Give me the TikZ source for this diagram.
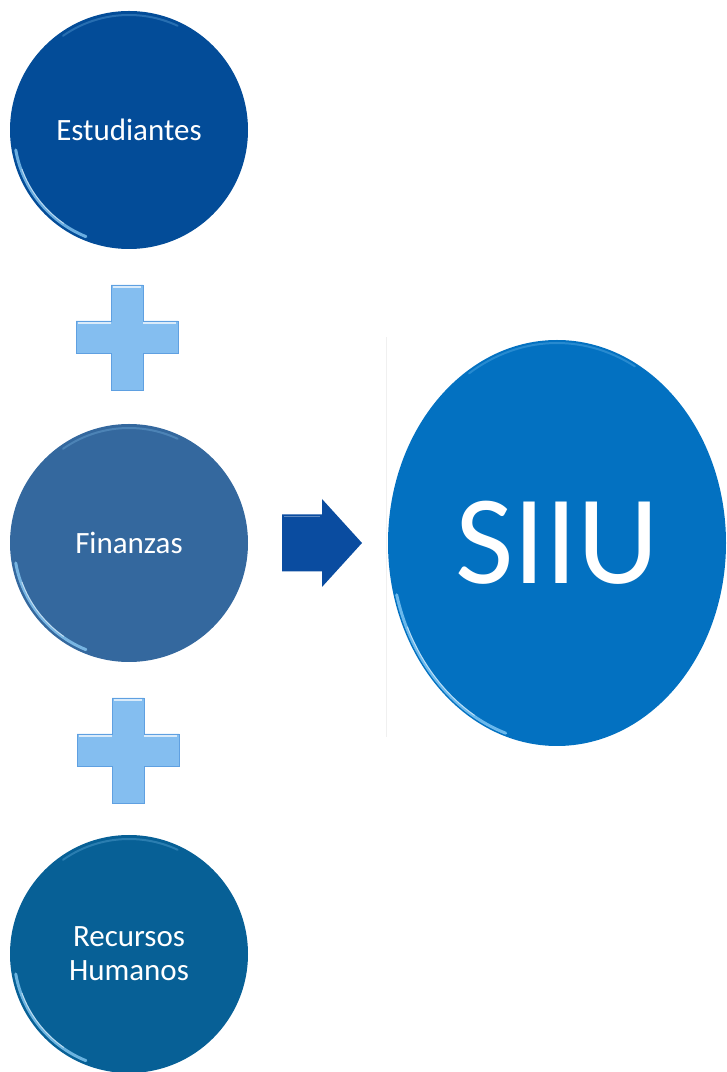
\documentclass[tikz,border=0pt]{standalone}
\usepackage{fontspec}
\setmainfont{Carlito}
\usetikzlibrary{calc,shapes.geometric}
\definecolor{cEst}{RGB}{3,76,152}
\definecolor{cFin}{RGB}{52,104,158}
\definecolor{cRec}{RGB}{7,96,150}
\definecolor{cSIIU}{RGB}{3,113,193}
\definecolor{cPlus}{RGB}{132,190,240}
\definecolor{cPlusEdge}{RGB}{95,160,225}
\definecolor{cArrow}{RGB}{10,76,160}
\definecolor{cHL}{RGB}{150,215,255}
\begin{document}
\begin{tikzpicture}[x=1pt,y=1pt,
  ball/.style={circle, minimum size=238pt, inner sep=0pt, text=white,
    align=center, font=\fontsize{31}{34}\selectfont},
  rim/.style={cHL, line width=3pt, line cap=round, opacity=0.7},
  rimin/.style={white, line width=1pt, line cap=round, opacity=0.55},
  rimtop/.style={cHL, line width=2pt, line cap=round, opacity=0.25},
  plusshape/.style={fill=cPlus, draw=cPlusEdge, line width=0.6pt},
  arrowshape/.style={fill=cArrow, draw=none}]
\useasboundingbox (0,0) rectangle (727,1072);

% faint separator line
\draw[gray!12, line width=0.8pt] (386,335) -- (386,735);

% circles
\node[ball, fill=cEst] (est) at (129,942) {Estudiantes};
\node[ball, fill=cFin] (fin) at (129,529) {Finanzas};
\node[ball, fill=cRec] (rec) at (129,118) {Recursos\\Humanos};
\node[ellipse, fill=cSIIU, minimum width=338pt, minimum height=406pt, inner sep=0pt,
  text=white, font=\fontsize{127}{127}\selectfont] (siiu) at (557,529) {SIIU};

% glossy rims
\foreach \c in {est,fin,rec}{
  \draw[rim] ($(\c.center)+(190:115)$) arc[start angle=190, end angle=248, radius=115];
  \draw[rimin] ($(\c.center)+(200:114)$) arc[start angle=200, end angle=235, radius=114];
  \draw[rimtop] ($(\c.center)+(65:115)$) arc[start angle=65, end angle=125, radius=115];
}
\draw[rim] ($(siiu.center)+(195:166 and 200)$) arc[start angle=195, end angle=252, x radius=166, y radius=200];
\draw[rimin] ($(siiu.center)+(205:165 and 199)$) arc[start angle=205, end angle=240, x radius=165, y radius=199];
\draw[rimtop] ($(siiu.center)+(62:166 and 200)$) arc[start angle=62, end angle=122, x radius=166, y radius=200];

% plus signs
\coordinate (p1) at (127,735);
\coordinate (p2) at (128,322);
\foreach \p in {p1,p2}{
  \draw[plusshape] ($(\p)+(-16,52)$) -- ($(\p)+(16,52)$) -- ($(\p)+(16,16)$) -- ($(\p)+(51,16)$)
    -- ($(\p)+(51,-16)$) -- ($(\p)+(16,-16)$) -- ($(\p)+(16,-53)$) -- ($(\p)+(-16,-53)$)
    -- ($(\p)+(-16,-16)$) -- ($(\p)+(-51,-16)$) -- ($(\p)+(-51,16)$) -- ($(\p)+(-16,16)$) -- cycle;
  \draw[white, line width=1.2pt, opacity=0.7] ($(\p)+(-14,50)$) -- ($(\p)+(14,50)$);
  \draw[white, line width=1.2pt, opacity=0.7] ($(\p)+(-49,14)$) -- ($(\p)+(-16,14)$);
  \draw[white, line width=1.2pt, opacity=0.7] ($(\p)+(16,14)$) -- ($(\p)+(49,14)$);
}

% arrow
\coordinate (atail) at (282,529);
\fill[arrowshape] ($(atail)+(0,28.5)$) -- ($(atail)+(40,28.5)$) -- ($(atail)+(40,44)$) -- ($(atail)+(80,0)$)
  -- ($(atail)+(40,-44)$) -- ($(atail)+(40,-28.5)$) -- ($(atail)+(0,-28.5)$) -- cycle;
\draw[white, opacity=0.35, line width=1pt] ($(atail)+(2,26.5)$) -- ($(atail)+(38,26.5)$);
\end{tikzpicture}
\end{document}
